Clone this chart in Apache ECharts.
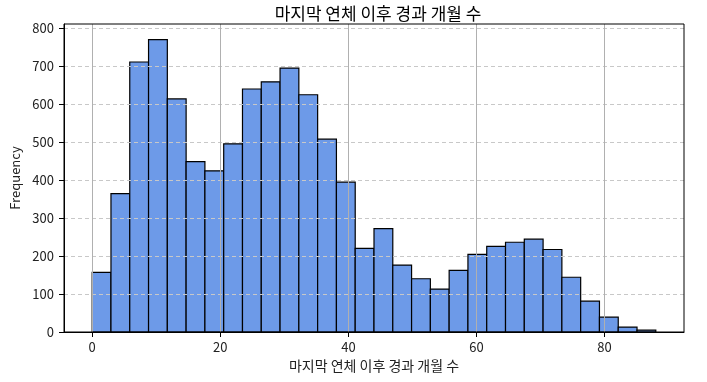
<!DOCTYPE html>
<html><head><meta charset="utf-8">
<script src="https://cdn.jsdelivr.net/npm/echarts@6/dist/echarts.min.js"></script>
<style>html,body{margin:0;padding:0;background:#fff}#c{width:707px;height:382px}</style>
</head><body><div id="c"></div>
<script>
var binStart = 0;
var binEnd = 88;
var counts = [157, 364, 710, 769, 613, 448, 424, 495, 639, 658, 694, 624, 507, 394, 220, 272, 176, 140, 113, 162, 204, 225, 236, 244, 217, 144, 81, 39, 13, 5];
var xTicks = [0, 20, 40, 60, 80];
var yTicks = [0, 100, 200, 300, 400, 500, 600, 700, 800];
var titleText = '마지막 연체 이후 경과 개월 수';
var xLabel = '마지막 연체 이후 경과 개월 수';
var yLabel = 'Frequency';

var binW = (binEnd - binStart) / counts.length;
var data = counts.map(function (v, i) { return [binStart + i * binW, binStart + (i + 1) * binW, v]; });
var font = '"Noto Sans CJK KR", "Noto Sans", sans-serif';
var chart = echarts.init(document.getElementById('c'), null, {renderer: 'canvas'});
chart.setOption({
  animation: false,
  title: {text: titleText, left: 373, top: 0, textAlign: 'center',
    textStyle: {fontFamily: font, fontSize: 17, fontWeight: 'normal', color: '#000'}},
  grid: {left: 64, right: 23, top: 24, bottom: 50, containLabel: false, outerBoundsMode: 'none', show: false},
  xAxis: {type: 'value', min: -4.4, max: 92.4, z: 5,
    name: xLabel, nameLocation: 'middle', nameGap: 27,
    nameTextStyle: {fontFamily: font, fontSize: 14, color: '#222'},
    axisLine: {show: true, onZero: false, lineStyle: {color: '#000', width: 1}},
    axisTick: {show: true, length: 5, lineStyle: {color: '#000'}, customValues: xTicks},
    axisLabel: {customValues: xTicks, fontFamily: font, fontSize: 13, color: '#222', margin: 9},
    splitLine: {show: true, lineStyle: {color: '#b0b0b0', width: 1}}},
  yAxis: {type: 'value', min: 0, max: 810, z: 5,
    name: yLabel, nameLocation: 'middle', nameGap: 41,
    nameTextStyle: {fontFamily: font, fontSize: 13, color: '#222'},
    axisLine: {show: true, onZero: false, lineStyle: {color: '#000', width: 1}},
    axisTick: {show: true, length: 5, lineStyle: {color: '#000'}, customValues: yTicks},
    axisLabel: {customValues: yTicks, fontFamily: font, fontSize: 13, color: '#222', margin: 10},
    splitLine: {show: true, lineStyle: {color: '#c8c8c8', type: [4, 3], width: 1}}},
  series: [{
    type: 'custom', z: 2,
    renderItem: function (params, api) {
      var p0 = api.coord([api.value(0), api.value(2)]);
      var p1 = api.coord([api.value(1), 0]);
      return {type: 'rect', shape: {x: p0[0], y: p0[1], width: p1[0] - p0[0], height: p1[1] - p0[1]},
        style: {fill: '#6d9ae8', stroke: '#000', lineWidth: 1.2}};
    },
    encode: {x: [0, 1], y: 2},
    data: data
  }],
  graphic: [
    {type: 'rect', z: 10, shape: {x: 64, y: 24, width: 620, height: 308}, style: {fill: null, stroke: '#000', lineWidth: 1}}
  ]
});
</script></body></html>
